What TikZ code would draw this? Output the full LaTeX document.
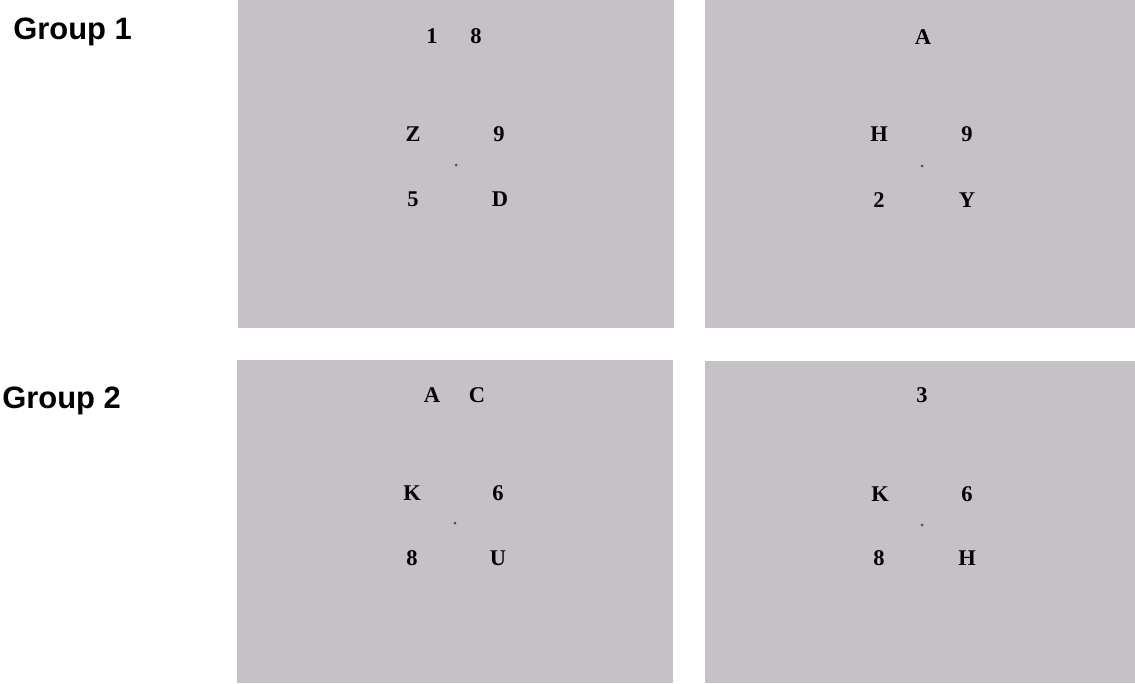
\documentclass[tikz,border=0pt]{standalone}
\usepackage{fontspec}
\setmainfont{Liberation Serif}
\newfontfamily\grpfont{Liberation Sans}
\usepackage{xcolor}
\definecolor{panelgray}{RGB}{198,193,199}
\definecolor{dotgray}{RGB}{80,78,82}

\begin{document}
\begin{tikzpicture}[x=0.02cm,y=-0.02cm,
  ch/.style={inner sep=0pt,font=\fontsize{12.8pt}{14pt}\selectfont\bfseries},
  grp/.style={inner sep=0pt,anchor=base west,font=\fontsize{17.6pt}{20pt}\grpfont\bfseries}]
\useasboundingbox (0,0) rectangle (1135,683);
% panels
\fill[panelgray] (238,0) rectangle (674,328);
\fill[panelgray] (705,0) rectangle (1135,328);
\fill[panelgray] (237,360) rectangle (673,683);
\fill[panelgray] (705,361) rectangle (1135,683);
% group labels
\node[grp] (g1) at (13,39) {Group 1};
\node[grp] (g2) at (2,408) {Group 2};
% group 1, left
\node[ch] (a1) at (432,36) {1};
\node[ch] (a2) at (476,36) {8};
\node[ch] (a3) at (413,134) {Z};
\node[ch] (a4) at (499,134) {9};
\node[ch] (a5) at (413,199) {5};
\node[ch] (a6) at (500,199) {D};
\fill[dotgray] (456,165) circle (1.5);
% group 1, right
\node[ch] (b1) at (923,37) {A};
\node[ch] (b2) at (879,134) {H};
\node[ch] (b3) at (967,134) {9};
\node[ch] (b4) at (879,200) {2};
\node[ch] (b5) at (967,200) {Y};
\fill[dotgray] (922,166) circle (1.5);
% group 2, left
\node[ch] (c1) at (432,395) {A};
\node[ch] (c2) at (477,395) {C};
\node[ch] (c3) at (412,493) {K};
\node[ch] (c4) at (498,493) {6};
\node[ch] (c5) at (412,558) {8};
\node[ch] (c6) at (498,558) {U};
\fill[dotgray] (455,523) circle (1.5);
% group 2, right
\node[ch] (d1) at (922,395) {3};
\node[ch] (d2) at (880,494) {K};
\node[ch] (d3) at (967,494) {6};
\node[ch] (d4) at (879,558) {8};
\node[ch] (d5) at (967,558) {H};
\fill[dotgray] (922,525) circle (1.5);
\end{tikzpicture}
\end{document}
